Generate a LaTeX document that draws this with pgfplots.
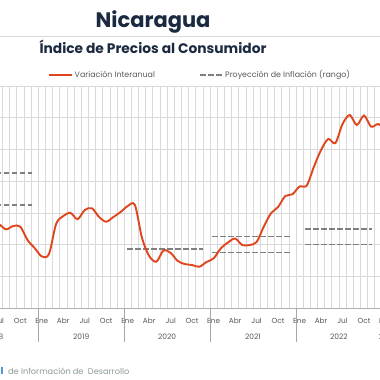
\documentclass[border=0pt]{standalone}
\usepackage{fontspec}
\setmainfont{Poppins}
\usepackage{pgfplots}
\pgfplotsset{compat=1.18}
\definecolor{navy}{HTML}{1B2A41}
\definecolor{orng}{HTML}{E0461E}
\definecolor{dgray}{HTML}{7F7F7F}
\definecolor{gridc}{HTML}{D9D9D9}
\definecolor{txt}{HTML}{595959}
\definecolor{src}{HTML}{8C9A9A}
\pgfplotstableread{
m v
-7 5.5
-6 5.3
-5 4.96
-4 5.17
-3 5.13
-2 4.29
-1 3.78
0 3.25
1 3.4
2 5.3
3 5.8
4 6.0
5 5.6
6 6.18
7 6.29
8 5.74
9 5.44
10 5.74
11 6.05
12 6.43
13 6.5
14 4.41
15 3.28
16 2.92
17 3.63
18 3.47
19 2.96
20 2.77
21 2.71
22 2.6
23 2.9
24 3.13
25 3.76
26 4.13
27 4.38
28 3.97
29 3.97
30 4.16
31 5.13
32 5.97
33 6.37
34 7.06
35 7.17
36 7.66
37 7.72
38 8.9
39 9.96
40 10.66
41 10.4
42 11.6
43 12.17
44 11.54
45 12.14
46 11.43
47 11.6
48 11.2
}\ipc
\begin{document}
\begin{tikzpicture}[x=1pt,y=1pt]
\useasboundingbox (0,0) rectangle (380,380);
\clip (0,0) rectangle (380,380);
\fill[white] (0,0) rectangle (380,380);
% titles
\node[font=\bfseries\fontsize{21}{21}\selectfont, text=navy, anchor=base] at (153,352) {Nicaragua};
\draw[gridc, line width=0.6pt] (0,344) -- (380,344);
\node[font=\bfseries\fontsize{13.8}{13.8}\selectfont, text=navy, anchor=base] at (153,326) {Índice de Precios al Consumidor};
% legend
\draw[orng, line width=2pt] (49,305.3) -- (72,305.3);
\node[font=\fontsize{7.9}{7.9}\selectfont, text=txt, anchor=base west, inner sep=0pt] at (74.5,302.5) {Variación Interanual};
\draw[dgray, line width=1.7pt, dash pattern=on 5.5pt off 2.5pt] (200,305.3) -- (222,305.3);
\node[font=\fontsize{7.9}{7.9}\selectfont, text=txt, anchor=base west, inner sep=0pt] at (225,302.5) {Proyección de Inflación (rango)};
\begin{axis}[
  scale only axis, width=429.6pt, height=222pt,
  at={(-29.8pt,72pt)}, anchor=south west,
  xmin=-10, xmax=50, ymin=0, ymax=14,
  axis line style={draw=none},
  ytick={0,2,...,14}, yticklabels={}, ymajorgrids,
  xtick={-10.5,-9.5,...,49.5}, xticklabels={}, xmajorgrids,
  major grid style={gridc, line width=0.6pt},
  tick style={draw=none},
  clip=false,
]
\addplot[dgray, line width=1.7pt, dash pattern=on 5.5pt off 2.5pt] coordinates {(-12,8.5) (-1.4,8.5)};
\addplot[dgray, line width=1.7pt, dash pattern=on 5.5pt off 2.5pt] coordinates {(-12,6.5) (-1.4,6.5)};
\addplot[dgray, line width=1.7pt, dash pattern=on 5.5pt off 2.5pt] coordinates {(11.9,3.7) (22.5,3.7)};
\addplot[dgray, line width=1.7pt, dash pattern=on 5.5pt off 2.5pt] coordinates {(23.8,4.5) (34.6,4.5)};
\addplot[dgray, line width=1.7pt, dash pattern=on 5.5pt off 2.5pt] coordinates {(23.8,3.5) (34.6,3.5)};
\addplot[dgray, line width=1.7pt, dash pattern=on 5.5pt off 2.5pt] coordinates {(36.8,5.0) (46.1,5.0)};
\addplot[dgray, line width=1.7pt, dash pattern=on 5.5pt off 2.5pt] coordinates {(36.8,4.0) (46.1,4.0)};
\addplot[orng, line width=1.9pt, smooth, tension=0.5, no marks] table[x=m,y=v] {\ipc};
\end{axis}
% axis line
\draw[gridc!80!black, line width=0.7pt] (0,72) -- (380,72);
% month labels
\foreach \m/\l in {-12/Ene,-9/Abr,-6/Jul,-3/Oct,0/Ene,3/Abr,6/Jul,9/Oct,12/Ene,15/Abr,18/Jul,21/Oct,24/Ene,27/Abr,30/Jul,33/Oct,36/Ene,39/Abr,42/Jul,45/Oct,48/Ene}
  \node[font=\fontsize{7.3}{7.3}\selectfont, text=txt, anchor=base, inner sep=0pt] at ({41.8+7.16*\m},56.7) {\l};
% year separators
\foreach \k in {-1,0,1,2,3,4}
  \draw[gray!70, line width=0.7pt] ({41.8+7.16*(12*\k-0.5)},72) -- ++(0,-34);
% year labels
\foreach \c/\y in {-6.5/2018,5.5/2019,17.5/2020,29.5/2021,41.5/2022,48.3/2023}
  \node[font=\fontsize{7.5}{7.5}\selectfont, text=txt, anchor=base, inner sep=0pt] at ({41.8+7.16*\c},40) {\y};
% source
\fill[cyan!60!blue!70] (0.5,6) rectangle (2.5,12.5);
\node[font=\fontsize{8.2}{8.2}\selectfont, text=src, anchor=base west, inner sep=0pt] at (8,5.7) {de Información de\ \ Desarrollo};
\end{tikzpicture}
\end{document}
